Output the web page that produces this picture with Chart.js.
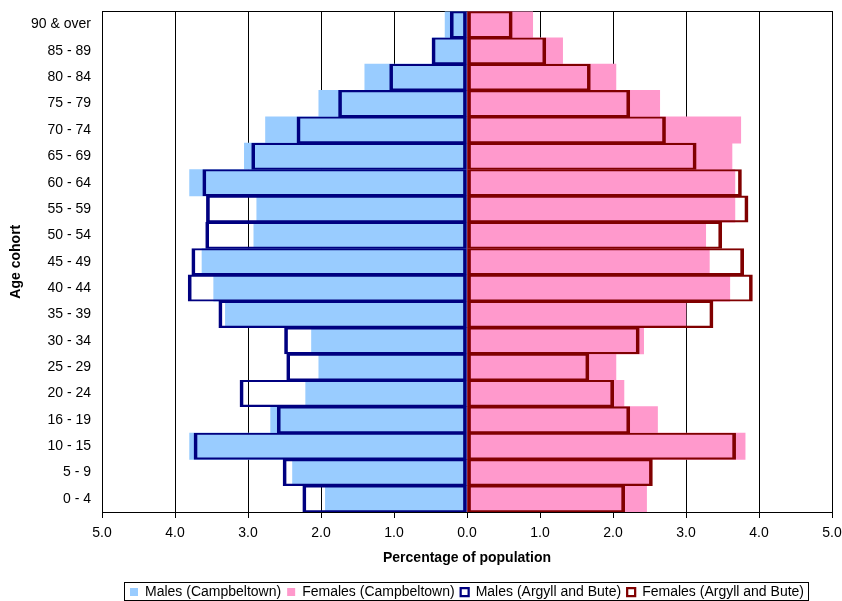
<!DOCTYPE html>
<html>
<head>
<meta charset="utf-8">
<title>Population pyramid</title>
<script src="https://cdn.jsdelivr.net/npm/chart.js@4.4.1/dist/chart.umd.min.js"></script>
<style>
    html, body { margin: 0; padding: 0; background: #fff; overflow: hidden; }
    canvas { display: block; }
</style>
</head>
<body>
<canvas id="pyramid" width="842" height="601"></canvas>
<script>
// Age cohorts, bottom to top
const ageCohorts = ['0 - 4', '5 - 9', '10 - 15', '16 - 19', '20 - 24', '25 - 29', '30 - 34', '35 - 39',
    '40 - 44', '45 - 49', '50 - 54', '55 - 59', '60 - 64', '65 - 69', '70 - 74', '75 - 79', '80 - 84',
    '85 - 89', '90 & over'];

// Percentage of population (males are drawn to the left)
const malesCampbeltown = [1.94, 2.39, 3.80, 2.69, 2.21, 2.03, 2.13, 3.31, 3.47, 3.63, 2.92, 2.88,
    3.80, 3.05, 2.76, 2.03, 1.40, 0.47, 0.30];
const femalesCampbeltown = [2.46, 2.53, 3.81, 2.61, 2.15, 2.04, 2.42, 3.00, 3.60, 3.32, 3.27, 3.67,
    3.67, 3.63, 3.75, 2.64, 2.04, 1.31, 0.90];
const malesArgyll = [2.25, 2.52, 3.74, 2.60, 3.11, 2.47, 2.50, 3.40, 3.82, 3.77, 3.58, 3.57,
    3.62, 2.95, 2.33, 1.76, 1.06, 0.48, 0.23];
const femalesArgyll = [2.16, 2.54, 3.68, 2.23, 2.01, 1.67, 2.36, 3.37, 3.91, 3.79, 3.49, 3.85,
    3.76, 3.14, 2.72, 2.23, 1.69, 1.08, 0.62];

const fontFamily = "'Liberation Sans', Arial, sans-serif";
const outlineWidth = { top: 1.5, bottom: 1.5, left: 3, right: 3 };
const legendDrop = 8;

// plot area frame, legend centred under zero, box around the legend
const framePlugin = {
    id: 'frame',
    beforeDraw(chart) {
        const lg = chart.legend;
        const zero = chart.scales.x.getPixelForValue(0);
        const dx = (zero - lg.width / 2) - lg.left;
        const dy = (chart.height - lg.height + legendDrop) - lg.top;
        lg.left += dx; lg.right += dx;
        lg.top += dy; lg.bottom += dy;
        lg.legendHitBoxes.forEach(b => { b.left += dx; b.top += dy; });
    },
    beforeDatasetsDraw(chart) {
        const { ctx, chartArea: a } = chart;
        ctx.save();
        ctx.strokeStyle = '#000';
        ctx.lineWidth = 1;
        ctx.strokeRect(Math.round(a.left) + 0.5, Math.round(a.top) + 0.5,
            Math.round(a.right - a.left), Math.round(a.bottom - a.top));
        ctx.restore();
    },
    afterDraw(chart) {
        const boxes = chart.legend.legendHitBoxes;
        if (!boxes || !boxes.length) return;
        const ctx = chart.ctx;
        let left = Infinity, right = -Infinity, top = Infinity, bottom = -Infinity;
        boxes.forEach(b => {
            left = Math.min(left, b.left);
            right = Math.max(right, b.left + b.width);
            top = Math.min(top, b.top);
            bottom = Math.max(bottom, b.top + b.height);
        });
        ctx.save();
        ctx.strokeStyle = '#000';
        ctx.lineWidth = 1;
        ctx.strokeRect(Math.round(left - 6) + 0.5, Math.round(top - 3) + 0.5,
            Math.round(right - left + 10), Math.round(bottom - top + 4));
        ctx.restore();
    }
};

new Chart(document.getElementById('pyramid'), {
    type: 'bar',
    data: {
        labels: ageCohorts,
        datasets: [
            {
                label: 'Males (Campbeltown)',
                data: malesCampbeltown.map(v => -v),
                backgroundColor: '#99CCFF',
                borderWidth: 0,
                order: 2
            },
            {
                label: 'Females (Campbeltown)',
                data: femalesCampbeltown,
                backgroundColor: '#FF99CC',
                borderWidth: 0,
                order: 2
            },
            {
                label: 'Males (Argyll and Bute)',
                data: malesArgyll.map(v => -v),
                backgroundColor: 'rgba(255,255,255,0)',
                borderColor: '#000080',
                borderWidth: outlineWidth,
                borderSkipped: false,
                order: 1
            },
            {
                label: 'Females (Argyll and Bute)',
                data: femalesArgyll,
                backgroundColor: 'rgba(255,255,255,0)',
                borderColor: '#800000',
                borderWidth: outlineWidth,
                borderSkipped: false,
                order: 1
            }
        ]
    },
    options: {
        indexAxis: 'y',
        responsive: false,
        animation: false,
        devicePixelRatio: 1,
        datasets: {
            bar: { grouped: false, barPercentage: 1, categoryPercentage: 1 }
        },
        layout: { padding: { top: 4, right: 0, left: 0, bottom: 0 } },
        scales: {
            x: {
                min: -5,
                max: 5,
                ticks: {
                    stepSize: 1,
                    color: '#000',
                    padding: 7,
                    font: { family: fontFamily, size: 14 },
                    callback: v => Math.abs(v).toFixed(1)
                },
                grid: { color: '#000', lineWidth: 1, drawTicks: true, tickLength: 6, tickColor: '#000' },
                border: { display: true, color: '#000' },
                title: {
                    display: true,
                    text: 'Percentage of population',
                    color: '#000',
                    font: { family: fontFamily, size: 14, weight: 'bold' },
                    padding: { top: 4, bottom: 4 }
                },
                afterFit(scale) {
                    scale.height = 59;
                    scale.paddingRight = 10;
                }
            },
            y: {
                reverse: true,
                ticks: {
                    color: '#000',
                    padding: 3,
                    font: { family: fontFamily, size: 14 }
                },
                grid: { display: false },
                border: { display: true, color: '#000' },
                title: {
                    display: true,
                    text: 'Age cohort',
                    color: '#000',
                    font: { family: fontFamily, size: 14, weight: 'bold' },
                    padding: { top: 8, bottom: 0 }
                },
                afterFit(scale) { scale.width = 102; }
            }
        },
        plugins: {
            legend: {
                position: 'bottom',
                labels: {
                    color: '#000',
                    boxWidth: 8,
                    boxHeight: 8,
                    padding: 6,
                    font: { family: fontFamily, size: 14 },
                    sort: (a, b) => a.datasetIndex - b.datasetIndex
                }
            },
            tooltip: { enabled: false }
        }
    },
    plugins: [framePlugin]
});
</script>
</body>
</html>
